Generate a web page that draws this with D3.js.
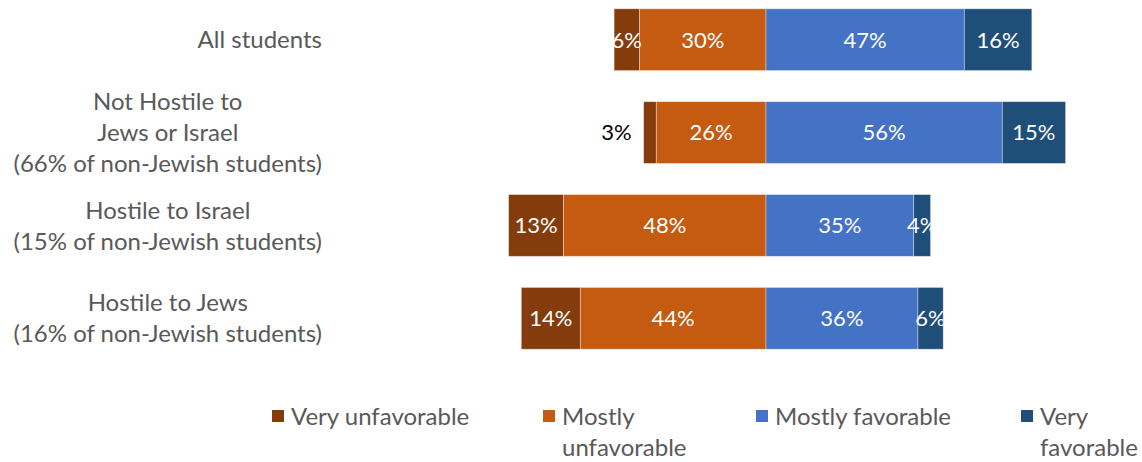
<!DOCTYPE html>
<html>
<head>
<meta charset="utf-8">
<script src="https://cdn.jsdelivr.net/npm/d3@7"></script>
<style>
  html, body { margin: 0; padding: 0; background: #fff; }
  svg { display: block; font-family: "Lato", "Open Sans", sans-serif; }
</style>
</head>
<body>
<svg id="chart" width="1142" height="462"></svg>
<script>
// Groups (each label may span several lines)
const groups = [
  ["All students"],
  ["Not Hostile to", "Jews or Israel", "(66% of non-Jewish students)"],
  ["Hostile to Israel", "(15% of non-Jewish students)"],
  ["Hostile to Jews", "(16% of non-Jewish students)"]
];
const groupKeys = ["all", "notHostile", "hostileIsrael", "hostileJews"];

// Shares per opinion level, in percent
const veryUnfavorable   = [6, 3, 13, 14];
const mostlyUnfavorable = [30, 26, 48, 44];
const mostlyFavorable   = [47, 56, 35, 36];
const veryFavorable     = [16, 15, 4, 6];

const seriesNames = ["Very unfavorable", "Mostly unfavorable", "Mostly favorable", "Very favorable"];
const legendLines = [["Very unfavorable"], ["Mostly", "unfavorable"], ["Mostly favorable"], ["Very", "favorable"]];
const colors = ["#843C0C", "#C55A11", "#4472C4", "#1F4E79"];

const svg = d3.select("#chart");

const x = d3.scaleLinear().domain([-62, 72]).range([504.4, 1069.8]);
const y = d3.scaleBand().domain(groupKeys).range([-7, 365]).paddingInner(0.335).paddingOuter(0.17);

// Build diverging segments: unfavorable to the left of zero, favorable to the right
const rows = groupKeys.map((k, i) => {
  const vu = veryUnfavorable[i], mu = mostlyUnfavorable[i];
  const mf = mostlyFavorable[i], vf = veryFavorable[i];
  return {
    key: k, idx: i,
    segs: [
      { s: 0, v: vu, x0: -(mu + vu), x1: -mu },
      { s: 1, v: mu, x0: -mu, x1: 0 },
      { s: 2, v: mf, x0: 0, x1: mf },
      { s: 3, v: vf, x0: mf, x1: mf + vf }
    ]
  };
});

const defs = svg.append("defs");
rows.forEach(r => {
  defs.append("clipPath").attr("id", "clip-" + r.key)
    .append("rect")
    .attr("x", x(r.segs[0].x0))
    .attr("y", y(r.key))
    .attr("width", x(r.segs[3].x1) - x(r.segs[0].x0))
    .attr("height", y.bandwidth());
});

const rowG = svg.selectAll("g.row").data(rows).join("g").attr("class", "row");

rowG.selectAll("rect.seg").data(r => r.segs.map(s => ({ ...s, key: r.key })))
  .join("rect")
  .attr("class", "seg")
  .attr("x", d => x(d.x0))
  .attr("y", d => y(d.key))
  .attr("width", d => x(d.x1) - x(d.x0))
  .attr("height", y.bandwidth())
  .attr("fill", d => colors[d.s])
  .attr("stroke", "#ffffff")
  .attr("stroke-opacity", 0.45)
  .attr("stroke-width", 0.8);

// Value labels: inside the segment, clipped to the bar; very narrow ones sit outside
rowG.each(function (r) {
  const g = d3.select(this);
  const inner = g.append("g").attr("clip-path", `url(#clip-${r.key})`);
  r.segs.forEach(s => {
    const w = x(s.x1) - x(s.x0);
    const cy = y(r.key) + y.bandwidth() / 2;
    if (w < 14) {
      g.append("text")
        .attr("x", x(s.x0) - 12)
        .attr("y", cy)
        .attr("dy", "0.36em")
        .attr("text-anchor", "end")
        .attr("font-size", 22)
        .attr("fill", "#000")
        .text(s.v + "%");
    } else {
      inner.append("text")
        .attr("x", (x(s.x0) + x(s.x1)) / 2)
        .attr("y", cy)
        .attr("dy", "0.36em")
        .attr("text-anchor", "middle")
        .attr("font-size", 22)
        .attr("fill", "#fff")
        .text(s.v + "%");
    }
  });
});

// Category labels: each block is right-aligned to the axis gutter, lines centred within it
const lineH = 31;
const labelRight = 322;
rows.forEach((r, i) => {
  const lines = groups[i];
  const cy = y(r.key) + y.bandwidth() / 2;
  const t = svg.append("text")
    .attr("text-anchor", "middle")
    .attr("font-size", 24)
    .attr("fill", "#595959");
  const spans = lines.map((ln, j) => t.append("tspan")
    .attr("y", cy + (j - (lines.length - 1) / 2) * lineH)
    .attr("dy", "0.36em")
    .text(ln));
  const blockW = d3.max(spans, s => s.node().getComputedTextLength());
  spans.forEach(s => s.attr("x", labelRight - blockW / 2));
});

// Legend
const legendX = [272, 543, 756, 1021];
const legendY = 416;
seriesNames.forEach((name, i) => {
  const g = svg.append("g").attr("class", "legend");
  g.append("rect")
    .attr("x", legendX[i]).attr("y", legendY - 6)
    .attr("width", 12).attr("height", 12)
    .attr("fill", colors[i]);
  const t = g.append("text")
    .attr("font-size", 24)
    .attr("fill", "#595959");
  legendLines[i].forEach((ln, j) => {
    t.append("tspan")
      .attr("x", legendX[i] + 19)
      .attr("y", legendY + j * 31)
      .attr("dy", "0.36em")
      .text(ln);
  });
});
</script>
</body>
</html>
